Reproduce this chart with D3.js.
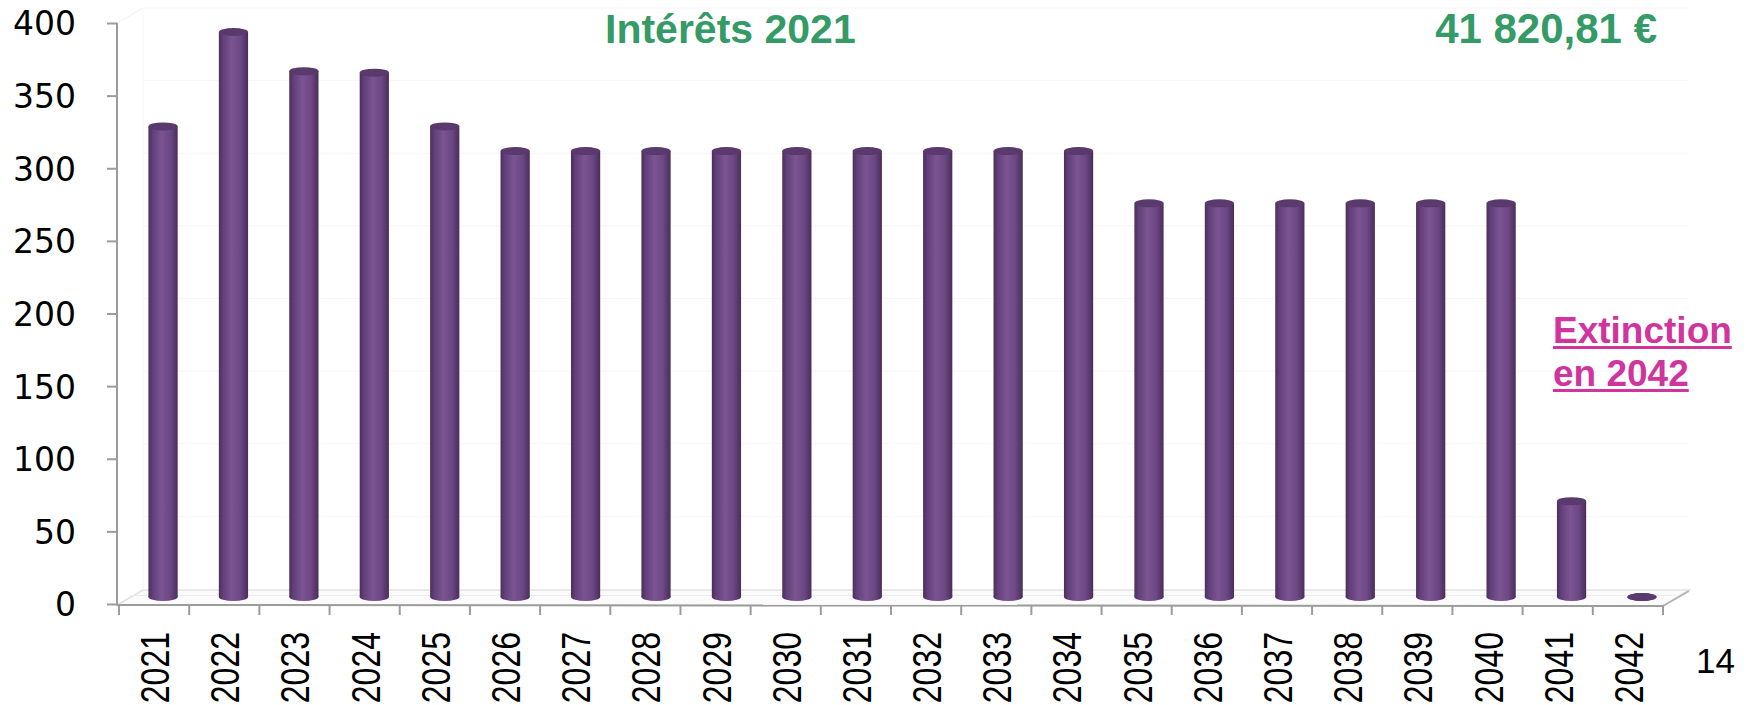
<!DOCTYPE html>
<html>
<head>
<meta charset="utf-8">
<script src="https://cdn.jsdelivr.net/npm/d3@7"></script>
<style>
  html, body { margin: 0; padding: 0; background: #ffffff; }
  svg { display: block; }
</style>
</head>
<body>
<svg id="chart" width="1752" height="705"></svg>
<script>
// ---- data ----
const years = ["2021","2022","2023","2024","2025","2026","2027","2028","2029","2030","2031",
               "2032","2033","2034","2035","2036","2037","2038","2039","2040","2041","2042"];
const interets = [324, 389, 362, 361, 324, 307, 307, 307, 307, 307, 307,
                  307, 307, 307, 271, 271, 271, 271, 271, 271, 66, 0];
const yTicks = [0, 50, 100, 150, 200, 250, 300, 350, 400];
const titleText = "Intérêts 2021";
const totalText = "41 820,81 €";
const noteLines = ["Extinction", "en 2042"];
const pageNumber = "14";

// ---- layout ----
const svg = d3.select("#chart");
const axisX = 117, depthDx = 26, depthDy = -15;
const y = d3.scaleLinear().domain([0, 400]).range([604, 23]);
const xAxisScale = d3.scaleBand().domain(years).range([119, 1663]);
const xBar = d3.scaleBand().domain(years).range([128, 1677]).paddingInner(0.585).paddingOuter(0.29);
const barDy = -7;

const defs = svg.append("defs");
const grad = defs.append("linearGradient").attr("id", "cyl").attr("x1", "0%").attr("x2", "100%");
[[0, "#4b2e5c"], [0.15, "#63407a"], [0.45, "#7b5492"], [0.75, "#6c4783"], [1, "#4a2d5a"]]
  .forEach(([o, c]) => grad.append("stop").attr("offset", o).attr("stop-color", c));

// back wall grid lines (faint)
const yBack = v => y(v) + depthDy;
svg.append("g").selectAll("line").data(yTicks.filter(d => d > 0)).join("line")
  .attr("x1", axisX + depthDx).attr("x2", 1663 + depthDx)
  .attr("y1", d => yBack(d)).attr("y2", d => yBack(d))
  .attr("stroke", "#f6f6f6").attr("stroke-width", 1);

// floor
const y0 = y(0);
svg.append("path")
  .attr("d", `M${axisX},${y0 + 1} L${axisX + depthDx},${y0 + 1 + depthDy} L${1663 + depthDx},${y0 + 1 + depthDy} L1663,${y0 + 2} Z`)
  .attr("fill", "#fbfbfb").attr("stroke", "#e2e2e2").attr("stroke-width", 1.5);
svg.append("line")
  .attr("x1", axisX + depthDx / 2).attr("x2", 1663 + depthDx / 2)
  .attr("y1", y0 + depthDy / 2 - 1).attr("y2", y0 + depthDy / 2 - 1)
  .attr("stroke", "#ececec").attr("stroke-width", 1);
svg.append("line")
  .attr("x1", 1663).attr("y1", y0 + 2).attr("x2", 1663 + depthDx).attr("y2", y0 + 2 + depthDy)
  .attr("stroke", "#b5b5b5").attr("stroke-width", 2);
// left wall edges (faint)
svg.append("line")
  .attr("x1", axisX).attr("y1", y(400)).attr("x2", axisX + depthDx).attr("y2", y(400) + depthDy)
  .attr("stroke", "#f0f0f0").attr("stroke-width", 1);
svg.append("line")
  .attr("x1", axisX + depthDx).attr("y1", y(400) + depthDy).attr("x2", axisX + depthDx).attr("y2", y0 + depthDy)
  .attr("stroke", "#f5f5f5").attr("stroke-width", 1);

// y axis
const yAxis = d3.axisLeft(y).tickValues(yTicks).tickSize(10).tickPadding(31);
const gy = svg.append("g").attr("transform", `translate(${axisX},0)`).call(yAxis);
gy.select(".domain").attr("stroke", "#9c9c9c").attr("stroke-width", 2)
  .attr("d", `M0,${y(400)}V${y0 + 1}`);
gy.selectAll(".tick line").attr("stroke", "#9c9c9c").attr("stroke-width", 2);
gy.selectAll(".tick text")
  .attr("font-family", "DejaVu Sans, Verdana, sans-serif")
  .attr("font-size", 33).attr("fill", "#000").attr("dy", "0.36em");

// x axis
const gx = svg.append("g").attr("transform", `translate(0,${y0 + 1})`);
gx.append("line").attr("x1", axisX).attr("x2", 1663).attr("y1", 0).attr("y2", 1)
  .attr("stroke", "#9c9c9c").attr("stroke-width", 2);
const boundaries = years.map(d => xAxisScale(d)).concat([xAxisScale.range()[1]]);
gx.selectAll("line.tk").data(boundaries).join("line").attr("class", "tk")
  .attr("x1", d => d).attr("x2", d => d).attr("y1", 0).attr("y2", 10)
  .attr("stroke", "#9c9c9c").attr("stroke-width", 2);
gx.selectAll("text").data(years).join("text")
  .attr("transform", d => `translate(${xAxisScale(d) + xAxisScale.bandwidth() / 2 + 15},${27}) rotate(-90) scale(0.8,1)`)
  .attr("text-anchor", "end")
  .attr("font-family", "Liberation Sans, Arial, sans-serif")
  .attr("font-size", 40).attr("fill", "#000")
  .text(d => d);

// bars (cylinders)
const bw = xBar.bandwidth();
const ry = 4;
const gb = svg.append("g");
years.forEach((yr, i) => {
  const v = interets[i];
  const x0 = xBar(yr);
  const cx = x0 + bw / 2;
  const yb = y(0) + barDy;
  const yt = y(v) + barDy;
  const g = gb.append("g");
  if (yb - yt > 0.5) {
    g.append("rect").attr("x", x0).attr("y", yt).attr("width", bw).attr("height", yb - yt)
      .attr("fill", "url(#cyl)");
  }
  g.append("ellipse").attr("cx", cx).attr("cy", yb).attr("rx", bw / 2).attr("ry", ry)
    .attr("fill", v > 0 ? "url(#cyl)" : "#5e3b72");
  g.append("ellipse").attr("cx", cx).attr("cy", yt).attr("rx", bw / 2).attr("ry", ry)
    .attr("fill", "#5a3a6d");
});

// titles
svg.append("text").attr("x", 605).attr("y", 43)
  .attr("font-family", "Liberation Sans, Arial, sans-serif").attr("font-weight", "bold")
  .attr("font-size", 41).attr("fill", "#349a66").text(titleText);
svg.append("text").attr("x", 1657).attr("y", 43).attr("text-anchor", "end")
  .attr("font-family", "Liberation Sans, Arial, sans-serif").attr("font-weight", "bold")
  .attr("font-size", 42).attr("fill", "#349a66").text(totalText);

// note
const note = svg.append("g");
noteLines.forEach((t, i) => {
  const by = 343 + i * 43;
  const txt = note.append("text").attr("x", 1553).attr("y", by)
    .attr("font-family", "Liberation Sans, Arial, sans-serif").attr("font-weight", "bold")
    .attr("font-size", 37).attr("fill", "#cf359c").text(t);
  const w = txt.node().getComputedTextLength();
  note.append("rect").attr("x", 1553).attr("y", by + 3).attr("width", w).attr("height", 3)
    .attr("fill", "#cf359c");
});

// page number
svg.append("text").attr("x", 1696).attr("y", 673)
  .attr("font-family", "Liberation Sans, Arial, sans-serif")
  .attr("font-size", 35).attr("fill", "#000").text(pageNumber);
</script>
</body>
</html>
